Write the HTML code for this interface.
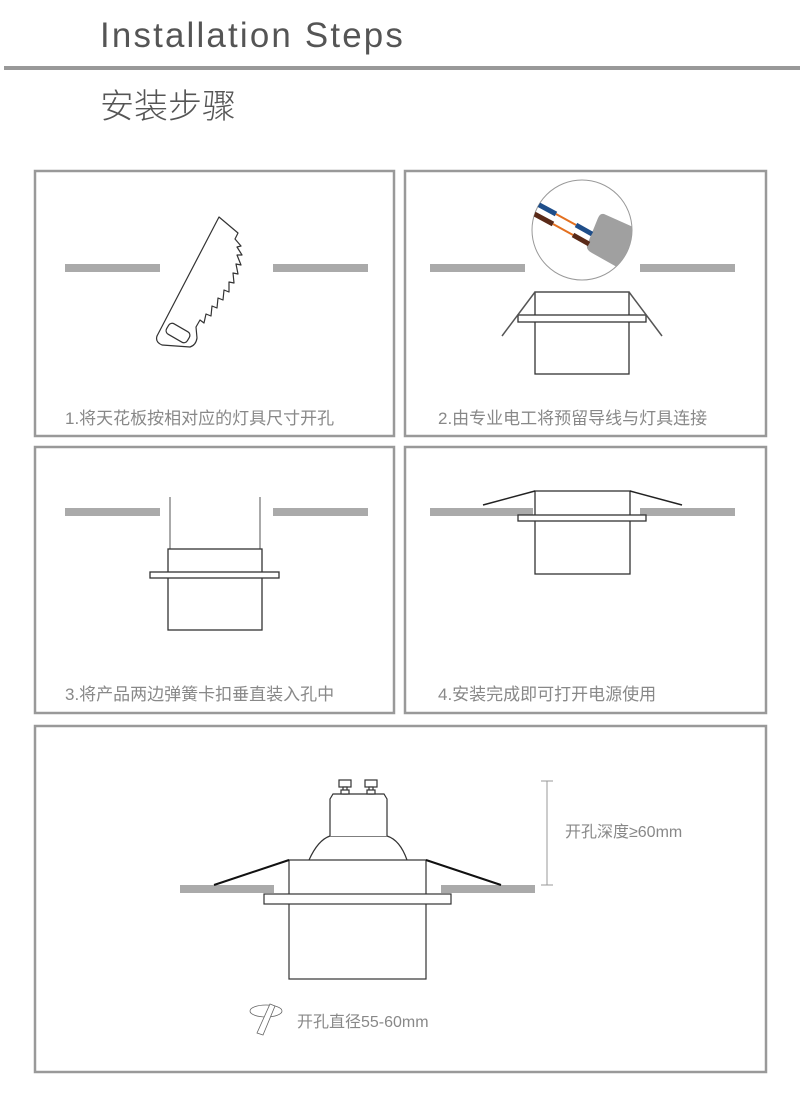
<!DOCTYPE html>
<html><head><meta charset="utf-8"><style>
html,body{margin:0;padding:0;background:#fff;width:800px;height:1105px;overflow:hidden}
svg{display:block}
text{font-family:"Liberation Sans","Noto Sans CJK SC",sans-serif}
</style></head><body>
<svg width="800" height="1105" viewBox="0 0 800 1105" xmlns="http://www.w3.org/2000/svg">
<defs><clipPath id="cc"><circle cx="582" cy="230" r="50"/></clipPath></defs>
<text x="100" y="47" font-size="35" fill="#555" letter-spacing="2.2" textLength="305" lengthAdjust="spacingAndGlyphs">Installation Steps</text>
<rect x="4" y="66" width="796" height="4" fill="#999"/>
<text x="100" y="118" font-size="34" fill="#555" font-family="Noto Sans CJK SC, sans-serif" font-weight="300">安装步骤</text>

<g fill="none" stroke="#999" stroke-width="2.5">
<rect x="35" y="171" width="359" height="265"/>
<rect x="405" y="171" width="361" height="265"/>
<rect x="35" y="447" width="359" height="266"/>
<rect x="405" y="447" width="361" height="266"/>
<rect x="35" y="726" width="731" height="346"/>
</g>

<g fill="#aaa">
<rect x="65" y="264" width="95" height="8"/><rect x="273" y="264" width="95" height="8"/>
<rect x="430" y="264" width="95" height="8"/><rect x="640" y="264" width="95" height="8"/>
<rect x="65" y="508" width="95" height="8"/><rect x="273" y="508" width="95" height="8"/>
<rect x="430" y="508" width="103" height="8"/><rect x="640" y="508" width="95" height="8"/>
<rect x="180" y="885" width="94" height="8"/><rect x="441" y="885" width="94" height="8"/>
</g>

<!-- saw -->
<g fill="none" stroke="#333" stroke-width="1.2" stroke-linejoin="round">
<path d="M219,217 L157,336 Q155,342 162,345 L190,347 Q196,345 197,338 L196,327 L200,320 L204,323 L206,314 L211,316 L212,306 L217,308 L218,298 L223,300 L224,290 L229,292 L229,282 L234,283 L233,273 L238,274 L236,264 L241,265 L237,255 L242,255 L237,247 L241,246 L235,239 L238,233 Z"/>
<rect x="166" y="327" width="24" height="12" rx="4" transform="rotate(30 178 333)"/>
</g>

<!-- panel 2 -->
<circle cx="582" cy="230" r="50" fill="#fff" stroke="#999" stroke-width="1"/>
<g clip-path="url(#cc)">
<path d="M604,214 Q600,213 598,218 L587,245 Q586,250 592,253 L640,280 L640,230 Z" fill="#a0a0a0"/>
<g stroke-width="5">
<line x1="530" y1="200" x2="556" y2="214" stroke="#1f4e8a"/>
<line x1="527" y1="210" x2="553" y2="224" stroke="#5a2a18"/>
<line x1="556" y1="214" x2="576" y2="225" stroke="#e37020" stroke-width="2"/>
<line x1="553" y1="224" x2="573" y2="235" stroke="#e37020" stroke-width="2"/>
<line x1="576" y1="225" x2="592" y2="234" stroke="#1f4e8a"/>
<line x1="573" y1="235" x2="589" y2="244" stroke="#5a2a18"/>
</g>
</g>
<g fill="#fff" stroke="#333" stroke-width="1.3">
<rect x="535" y="292" width="94" height="82"/>
<rect x="518" y="315" width="128" height="7"/>
</g>
<g stroke="#555" stroke-width="1.5">
<line x1="535" y1="292" x2="502" y2="336"/><line x1="629" y1="292" x2="662" y2="336"/>
</g>

<!-- panel 3 -->
<g stroke="#555" stroke-width="1"><line x1="170" y1="497" x2="170" y2="549"/><line x1="260" y1="497" x2="260" y2="549"/></g>
<g fill="#fff" stroke="#333" stroke-width="1.3">
<rect x="168" y="549" width="94" height="81"/>
<rect x="150" y="572" width="129" height="6"/>
</g>

<!-- panel 4 -->
<g fill="#fff" stroke="#333" stroke-width="1.3">
<rect x="535" y="491" width="95" height="83"/>
<rect x="518" y="515" width="128" height="6"/>
</g>
<g stroke="#222" stroke-width="1.5"><line x1="535" y1="491" x2="483" y2="505"/><line x1="630" y1="491" x2="682" y2="505"/></g>

<!-- bottom -->
<g fill="#fff" stroke="#333" stroke-width="1.2">
<path d="M309,860 Q318,840 330,836 L387,836 Q400,840 407,860"/>
<path d="M330,836 L330,799 L333,794 L384,794 L387,799 L387,836"/>
<rect x="339" y="780" width="12" height="7"/><rect x="343" y="787" width="4" height="7"/><rect x="341" y="790" width="8" height="4"/>
<rect x="365" y="780" width="12" height="7"/><rect x="369" y="787" width="4" height="7"/><rect x="367" y="790" width="8" height="4"/>
<rect x="289" y="860" width="137" height="119"/>
<rect x="264" y="894" width="187" height="10"/>
</g>
<g stroke="#111" stroke-width="2"><line x1="289" y1="860" x2="214" y2="885"/><line x1="426" y1="860" x2="501" y2="885"/></g>
<g stroke="#999" stroke-width="1"><line x1="547" y1="781" x2="547" y2="885"/><line x1="541" y1="781" x2="553" y2="781"/><line x1="541" y1="885" x2="553" y2="885"/></g>
<text x="565" y="837" font-size="16" fill="#888">开孔深度≥60mm</text>
<g fill="none" stroke="#666" stroke-width="0.8">
<ellipse cx="266" cy="1011" rx="16" ry="6"/>
<path d="M270,1004 L275,1006 L263,1035 L257,1033 Z" fill="#fff"/>
</g>
<text x="297" y="1027" font-size="16" fill="#888">开孔直径55-60mm</text>

<g font-size="17" fill="#888">
<text x="65" y="424">1.将天花板按相对应的灯具尺寸开孔</text>
<text x="438" y="424">2.由专业电工将预留导线与灯具连接</text>
<text x="65" y="700">3.将产品两边弹簧卡扣垂直装入孔中</text>
<text x="438" y="700">4.安装完成即可打开电源使用</text>
</g>
</svg>
</body></html>
